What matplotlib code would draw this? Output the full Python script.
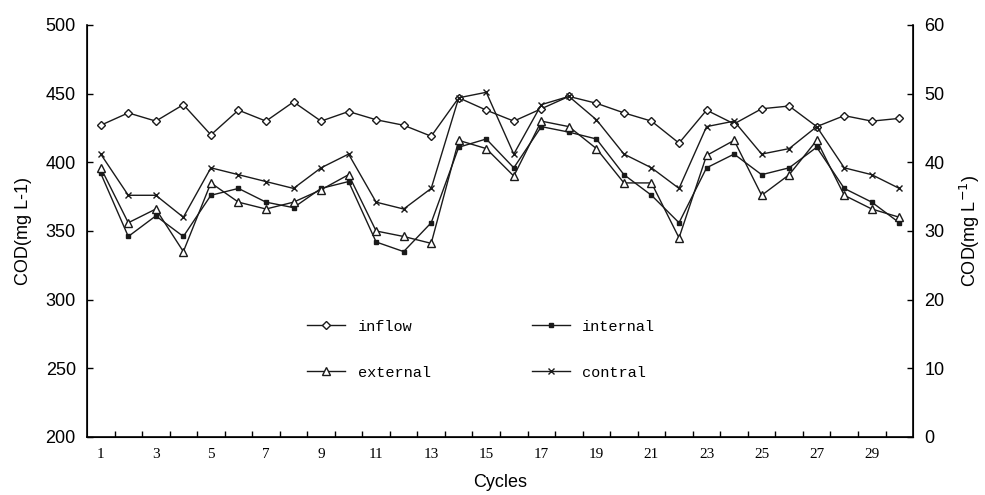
import numpy as np
import matplotlib.pyplot as plt

cycles = np.arange(1, 31)

inflow = [427, 436, 430, 442, 420, 438, 430, 444, 430, 437, 431, 427, 419, 447,
          438, 430, 439, 448, 443, 436, 430, 414, 438, 428, 439, 441, 426, 434, 430, 432]
internal = [392, 346, 361, 346, 376, 381, 371, 367, 381, 386, 342, 335, 356, 411,
            417, 396, 426, 422, 417, 391, 376, 356, 396, 406, 391, 396, 411, 381, 371, 356]
external = [396, 356, 366, 335, 385, 371, 366, 371, 380, 391, 350, 346, 341, 416,
            410, 390, 430, 426, 410, 385, 385, 345, 405, 416, 376, 391, 416, 376, 366, 360]
contral = [406, 376, 376, 360, 396, 391, 386, 381, 396, 406, 371, 366, 381, 447,
           451, 406, 442, 448, 431, 406, 396, 381, 426, 430, 406, 410, 426, 396, 391, 381]

fig, ax = plt.subplots(figsize=(9.85, 4.95), dpi=100)
fig.subplots_adjust(left=0.0883, right=0.927, top=0.9495, bottom=0.1172)

lc = '#1a1a1a'
lw = 1.0
h_in, = ax.plot(cycles, inflow, color=lc, lw=lw, marker='D', ms=4.5, mfc='white', mec=lc, mew=1.0, label='inflow')
h_int, = ax.plot(cycles, internal, color=lc, lw=lw, marker='s', ms=3, mfc=lc, mec=lc, label='internal')
h_ext, = ax.plot(cycles, external, color=lc, lw=lw, marker='^', ms=6, mfc='white', mec=lc, mew=1.0, label='external')
h_con, = ax.plot(cycles, contral, color=lc, lw=lw, marker='x', ms=4.5, mec=lc, mew=1.0, label='contral')

ax.set_xlim(0.5, 30.5)
ax.set_ylim(200, 500)
ax.set_yticks(np.arange(200, 501, 50))
ax.set_xticks(np.arange(1.5, 30, 1))
ax.set_xticklabels([])
ax.set_xticks(np.arange(1, 30, 2), minor=True)
ax.set_xticklabels([str(i) for i in range(1, 30, 2)], minor=True,
                   family='Liberation Serif', fontsize=11)
ax.tick_params(axis='x', which='major', direction='in', length=4, width=1)
ax.tick_params(axis='x', which='minor', length=0, pad=8)
ax.tick_params(axis='y', direction='in', length=4, width=1, labelsize=13, pad=8)
for lab in ax.get_yticklabels():
    lab.set_family('Liberation Sans')
ax.spines['top'].set_visible(False)
for s in ['left', 'bottom']:
    ax.spines[s].set_linewidth(1.2)

ax.set_xlabel('Cycles', family='Liberation Sans', fontsize=13, labelpad=9)
ax.set_ylabel('COD(mg L-1)', family='Liberation Sans', fontsize=13, labelpad=10)

ax2 = ax.twinx()
ax2.set_ylim(0, 60)
ax2.set_yticks(np.arange(0, 61, 10))
ax2.tick_params(axis='y', direction='in', length=4, width=1, labelsize=13, pad=8)
for lab in ax2.get_yticklabels():
    lab.set_family('Liberation Sans')
ax2.spines['top'].set_visible(False)
ax2.spines['right'].set_linewidth(1.2)
ax2.set_ylabel('COD(mg L$^{-1}$)', family='Liberation Sans', fontsize=13, labelpad=10)

ax.legend(handles=[h_in, h_ext, h_int, h_con], ncol=2, frameon=False,
          loc='upper left', bbox_to_anchor=(0.25, 0.318),
          prop={'family': 'Liberation Mono', 'size': 11},
          handlelength=2.5, labelspacing=2.1, columnspacing=6.6, handletextpad=0.8)

fig.savefig('out.png', dpi=100)
